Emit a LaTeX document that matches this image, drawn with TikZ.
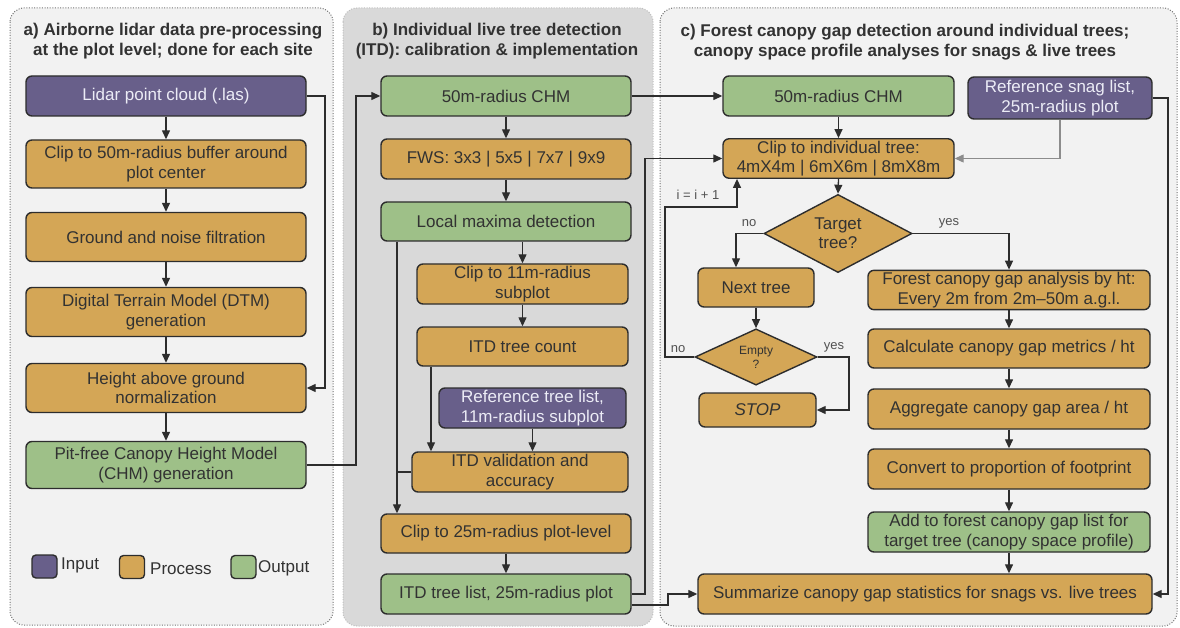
\documentclass[tikz,border=0pt]{standalone}
\usepackage{fontspec}
\setmainfont{Liberation Sans}
\usetikzlibrary{arrows.meta,shapes.geometric}
\definecolor{purp}{RGB}{104,95,138}
\definecolor{orng}{RGB}{212,166,86}
\definecolor{grn}{RGB}{158,192,136}
\definecolor{edgec}{RGB}{45,45,45}
\definecolor{txt}{RGB}{50,50,50}
\definecolor{intxt}{RGB}{236,236,246}
\definecolor{panlight}{RGB}{242,242,242}
\definecolor{pandark}{RGB}{217,217,217}
\tikzset{
  box/.style={draw=edgec, line width=1.4pt, rounded corners=6pt, align=center, inner sep=2pt, text=txt, font=\fontsize{17}{19.5}\selectfont},
  inbox/.style={box, fill=purp, text=intxt},
  procbox/.style={box, fill=orng},
  outbox/.style={box, fill=grn},
  decis/.style={diamond, draw=edgec, line width=1.4pt, fill=orng, align=center, inner sep=0pt, text=txt, font=\fontsize{17}{19}\selectfont},
  arr/.style={draw=edgec, line width=1.3pt, -{Triangle[length=9pt,width=8pt]}},
  ln/.style={draw=edgec, line width=1.3pt},
  panel/.style={line width=1pt, dash pattern=on 1pt off 1.6pt, rounded corners=14pt},
  ttl/.style={align=center, text=txt, font=\bfseries\fontsize{17}{19.5}\selectfont},
  lbl/.style={text=txt!85, font=\fontsize{13}{15}\selectfont, inner sep=0pt},
  leg/.style={draw=edgec, line width=1.4pt, rounded corners=4pt, minimum width=25pt, minimum height=23pt, inner sep=0pt},
  legt/.style={text=txt, font=\fontsize{17}{19}\selectfont, anchor=west, inner sep=0pt}
}
\begin{document}
\begin{tikzpicture}[x=1pt,y=-1pt]
\useasboundingbox[fill=white] (0,0) rectangle (1180,628);
% panels
\path[panel, fill=panlight, draw=black!55] (10,8) rectangle (333,625);
\path[panel, fill=pandark, draw=black!25] (343,8) rectangle (653,626);
\path[panel, fill=panlight, draw=black!55] (660,8) rectangle (1177,626);
% titles
\node[ttl] (ta) at (173,41) {a) Airborne lidar data pre-processing\\at the plot level; done for each site};
\node[ttl] (tb) at (497,41) {b) Individual live tree detection\\(ITD): calibration \& implementation};
\node[ttl] (tc) at (905,42) {c) Forest canopy gap detection around individual trees;\\canopy space profile analyses for snags \& live trees};
% panel a
\node[inbox, minimum width=280pt, minimum height=40pt] (lidar) at (166,96) {Lidar point cloud (.las)};
\node[procbox, minimum width=280pt, minimum height=48pt] (clipa) at (166,164) {Clip to 50m-radius buffer around\\plot center};
\node[procbox, minimum width=280pt, minimum height=49pt] (ground) at (166,237) {Ground and noise filtration};
\node[procbox, minimum width=280pt, minimum height=49pt] (dtm) at (166,312) {Digital Terrain Model (DTM)\\generation};
\node[procbox, minimum width=280pt, minimum height=49pt] (height) at (166,388) {Height above ground\\normalization};
\node[outbox, minimum width=280pt, minimum height=47pt] (pitfree) at (166,465) {Pit-free Canopy Height Model\\(CHM) generation};
% legend
\node[leg, fill=purp] (lgi) at (44.5,566.5) {};
\node[legt] (lgit) at (61,565) {Input};
\node[leg, fill=orng] (lgp) at (132,567) {};
\node[legt] (lgpt) at (150,569) {Process};
\node[leg, fill=grn] (lgo) at (243.5,567) {};
\node[legt] (lgot) at (258,568) {Output};
% panel b
\node[outbox, minimum width=250pt, minimum height=40pt] (chmb) at (506,96) {50m-radius CHM};
\node[procbox, minimum width=250pt, minimum height=40pt] (fws) at (506,159) {FWS: 3x3 | 5x5 | 7x7 | 9x9};
\node[outbox, minimum width=250pt, minimum height=39pt] (lmax) at (506,221.5) {Local maxima detection};
\node[procbox, minimum width=211pt, minimum height=40pt] (clip11) at (522.5,284) {Clip to 11m-radius\\subplot};
\node[procbox, minimum width=211pt, minimum height=39pt] (count) at (522.5,346.5) {ITD tree count};
\node[inbox, minimum width=187pt, minimum height=40pt] (reftree) at (532.5,408) {Reference tree list,\\11m-radius subplot};
\node[procbox, minimum width=216pt, minimum height=40pt] (itdval) at (520,472) {ITD validation and\\accuracy};
\node[procbox, minimum width=250pt, minimum height=39pt] (clip25) at (506,533.5) {Clip to 25m-radius plot-level};
\node[outbox, minimum width=250pt, minimum height=40pt] (itdlist) at (506,594) {ITD tree list, 25m-radius plot};
% panel c
\node[outbox, minimum width=231pt, minimum height=40pt] (chmc) at (838.5,96) {50m-radius CHM};
\node[inbox, minimum width=184pt, minimum height=42pt] (refsnag) at (1060,98) {Reference snag list,\\25m-radius plot};
\node[procbox, minimum width=231pt, minimum height=39pt] (clipi) at (838.5,158.5) {Clip to individual tree:\\4mX4m | 6mX6m | 8mX8m};
\node[decis, minimum width=148pt, minimum height=63pt] (target) at (838,233.5) {Target\\tree?};
\node[procbox, minimum width=116pt, minimum height=39pt] (nexttree) at (756,287.5) {Next tree};
\node[procbox, minimum width=282pt, minimum height=38pt] (forest) at (1009,290) {Forest canopy gap analysis by ht:\\Every 2m from 2m--50m a.g.l.};
\node[decis, minimum width=122pt, minimum height=50pt, font=\fontsize{12}{14}\selectfont] (empty) at (756,357) {Empty\\?};
\node[procbox, minimum width=117pt, minimum height=34pt, font=\itshape\fontsize{17}{19.5}\selectfont] (stop) at (757.5,410) {STOP};
\node[procbox, minimum width=282pt, minimum height=39pt] (calc) at (1009,348.5) {Calculate canopy gap metrics / ht};
\node[procbox, minimum width=282pt, minimum height=40pt] (aggr) at (1009,409) {Aggregate canopy gap area / ht};
\node[procbox, minimum width=282pt, minimum height=40pt] (conv) at (1009,469) {Convert to proportion of footprint};
\node[outbox, minimum width=282pt, minimum height=40pt] (addf) at (1009,532) {Add to forest canopy gap list for\\target tree (canopy space profile)};
\node[procbox, minimum width=454pt, minimum height=40pt] (summ) at (925,594) {Summarize canopy gap statistics for snags vs. live trees};
% routing coordinates
\coordinate (ra) at (325,0);
\coordinate (rb) at (356,0);
\coordinate (cx) at (431,0);
\coordinate (lx) at (397,0);
\coordinate (rc) at (645,0);
\coordinate (rd) at (668,0);
\coordinate (re) at (1168,0);
\coordinate (nx) at (736,0);
\coordinate (lp) at (665,207);
\coordinate (lq) at (737,207);
\coordinate (ey) at (849,0);
% panel a connectors
\draw[arr] (lidar) -- (clipa);
\draw[arr] (clipa) -- (ground);
\draw[arr] (ground) -- (dtm);
\draw[arr] (dtm) -- (height);
\draw[arr] (height) -- (pitfree);
\draw[arr] (lidar.east) -- (lidar.east -| ra) |- (height.east);
\draw[arr] (pitfree.east) -- (pitfree.east -| rb) |- (chmb.west);
% panel b connectors
\draw[arr] (chmb) -- (fws);
\draw[arr] (fws) -- (lmax);
\draw[arr] (lmax.south -| clip11) -- (clip11.north);
\draw[arr] (clip11) -- (count);
\draw[arr] (count.south -| cx) -- (itdval.north -| cx);
\draw[arr] (reftree.south) -- (itdval.north -| reftree);
\draw[arr] (lmax.south -| lx) -- (clip25.north -| lx);
\draw[ln] (itdval.west) -- (itdval.west -| lx);
\draw[arr] (clip25) -- (itdlist);
\draw[arr] (chmb.east) -- (chmc.west);
\draw[arr] (itdlist.east) -- (itdlist.east -| rc) |- (clipi.west);
\draw[arr] ([yshift=-11pt]itdlist.east) -- ([yshift=-11pt]itdlist.east -| rd) |- (summ.west);
% panel c connectors
\draw[arr] (chmc) -- (clipi);
\draw[arr, draw=black!45] (refsnag.south) |- (clipi.east);
\draw[arr] (refsnag.east) -- (refsnag.east -| re) |- (summ.east);
\draw[arr] (clipi.south) -- (target.north);
\draw[arr] (target.west) -| (nexttree.north -| nx);
\draw[arr] (target.east) -| (forest.north);
\draw[arr] (nexttree) -- (empty);
\draw[arr] (empty.west) -| (lp) -- (lq) -- (clipi.south -| lq);
\draw[arr] (empty.east) -- (empty.east -| ey) |- (stop.east);
\draw[arr] (forest) -- (calc);
\draw[arr] (calc) -- (aggr);
\draw[arr] (aggr) -- (conv);
\draw[arr] (conv) -- (addf);
\draw[arr] (addf.south) -- (summ.north -| addf);
% labels
\node[lbl] (lno1) at (749,223) {no};
\node[lbl] (lyes1) at (949,223) {yes};
\node[lbl] (linc) at (698,195) {i = i + 1};
\node[lbl] (lno2) at (678,349) {no};
\node[lbl] (lyes2) at (834,347) {yes};
\end{tikzpicture}
\end{document}
